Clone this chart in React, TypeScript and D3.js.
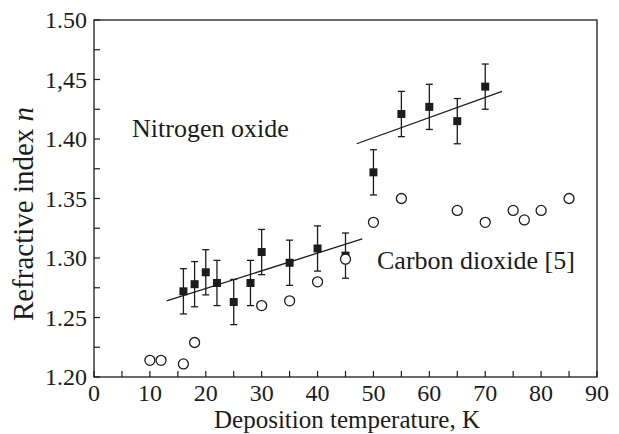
import { useEffect, useMemo, useRef } from "react";
import * as d3 from "d3";

// Nitrogen oxide (filled squares with error bars)
const noTemps = [16, 18, 20, 22, 25, 28, 30, 35, 40, 45, 50, 55, 60, 65, 70];
const noValues = [1.272, 1.278, 1.288, 1.279, 1.263, 1.279, 1.305, 1.296, 1.308, 1.302, 1.372, 1.421, 1.427, 1.415, 1.444];
const noErrors = [0.019, 0.019, 0.019, 0.019, 0.019, 0.019, 0.019, 0.019, 0.019, 0.019, 0.019, 0.019, 0.019, 0.019, 0.019];

// Carbon dioxide [5] (open circles)
const co2Temps = [10, 12, 16, 18, 30, 35, 40, 45, 50, 55, 65, 70, 75, 77, 80, 85];
const co2Values = [1.214, 1.214, 1.211, 1.229, 1.26, 1.264, 1.28, 1.299, 1.33, 1.35, 1.34, 1.33, 1.34, 1.332, 1.34, 1.35];

// linear fits, as [temperature, n] end points
const fitLow: [number, number][] = [[13, 1.264], [48, 1.316]];
const fitHigh: [number, number][] = [[47, 1.396], [73, 1.44]];

const xTicks = [0, 10, 20, 30, 40, 50, 60, 70, 80, 90];
const xMinor = d3.range(0, 91, 5);
const yTicks = [1.2, 1.25, 1.3, 1.35, 1.4, 1.45, 1.5];
const yTickLabels = ["1.20", "1.25", "1.30", "1.35", "1.40", "1,45", "1.50"];
const yMinor = d3.range(0, 13).map((i) => 1.2 + i * 0.025);

const width = 619;
const height = 434;
const margin = { left: 94, right: 22, top: 20, bottom: 57 };
const ink = "#1c1c1c";
const FONT = "Liberation Serif";

export default function App() {
  const textRef = useRef<SVGGElement>(null);

  const x = useMemo(
    () => d3.scaleLinear().domain([0, 90]).range([margin.left, width - margin.right]),
    []
  );
  const y = useMemo(
    () => d3.scaleLinear().domain([1.2, 1.5]).range([height - margin.bottom, margin.top]),
    []
  );
  const line = d3
    .line<[number, number]>()
    .x((d) => x(d[0]))
    .y((d) => y(d[1]));

  const x0 = x(0);
  const x1 = x(90);
  const y0 = y(1.2);
  const y1 = y(1.5);
  const sq = 8;

  // text layer drawn with d3
  useEffect(() => {
    if (!textRef.current) return;
    const g = d3.select(textRef.current);
    g.selectAll("*").remove();

    g.selectAll("text.xl")
      .data(xTicks)
      .join("text")
      .attr("class", "xl")
      .attr("x", (d) => x(d))
      .attr("y", 401)
      .attr("text-anchor", "middle")
      .style("font-family", FONT)
      .style("font-size", "24px")
      .attr("fill", ink)
      .text((d) => d);

    g.selectAll("text.yl")
      .data(yTicks)
      .join("text")
      .attr("class", "yl")
      .attr("x", 87)
      .attr("y", (d) => y(d) + 8)
      .attr("text-anchor", "end")
      .style("font-family", FONT)
      .style("font-size", "24px")
      .attr("fill", ink)
      .text((d, i) => yTickLabels[i]);

    g.append("text")
      .attr("x", 347)
      .attr("y", 428)
      .attr("text-anchor", "middle")
      .style("font-family", FONT)
      .style("font-size", "25px")
      .attr("fill", ink)
      .text("Deposition temperature, K");

    const yt = g
      .append("text")
      .attr("transform", "translate(33,214) rotate(-90)")
      .attr("text-anchor", "middle")
      .style("font-family", FONT)
      .style("font-size", "29px")
      .attr("fill", ink);
    yt.append("tspan").text("Refractive index ");
    yt.append("tspan").style("font-style", "italic").text("n");

    g.append("text")
      .attr("x", 132)
      .attr("y", 137)
      .style("font-family", FONT)
      .style("font-size", "26px")
      .attr("fill", ink)
      .text("Nitrogen oxide");

    g.append("text")
      .attr("x", 377)
      .attr("y", 269)
      .style("font-family", FONT)
      .style("font-size", "26px")
      .attr("fill", ink)
      .text("Carbon dioxide [5]");
  }, [x, y]);

  return (
    <svg width={width} height={height} style={{ position: "absolute", left: 0, top: 0 }}>
      <rect x={0} y={0} width={width} height={height} fill="#fff" />
      <rect x={x0} y={y1} width={x1 - x0} height={y0 - y1} fill="none" stroke={ink} strokeWidth={1.3} />

      {xMinor.map((t) => (
        <line key={"xt" + t} x1={x(t)} x2={x(t)} y1={y0} y2={y0 - 6} stroke={ink} strokeWidth={1.2} />
      ))}
      {yMinor.map((t) => (
        <line key={"yt" + t} x1={x0} x2={x0 + 6} y1={y(t)} y2={y(t)} stroke={ink} strokeWidth={1.2} />
      ))}

      <g ref={textRef} />

      <path d={line(fitLow) ?? ""} fill="none" stroke={ink} strokeWidth={1.3} />
      <path d={line(fitHigh) ?? ""} fill="none" stroke={ink} strokeWidth={1.3} />

      {noTemps.map((t, i) => {
        const cx = x(t);
        const top = y(noValues[i] + noErrors[i]);
        const bot = y(noValues[i] - noErrors[i]);
        return (
          <g key={"no" + t}>
            <line x1={cx} x2={cx} y1={top} y2={bot} stroke={ink} strokeWidth={1.3} />
            <line x1={cx - 3.5} x2={cx + 3.5} y1={top} y2={top} stroke={ink} strokeWidth={1.3} />
            <line x1={cx - 3.5} x2={cx + 3.5} y1={bot} y2={bot} stroke={ink} strokeWidth={1.3} />
            <rect x={cx - sq / 2} y={y(noValues[i]) - sq / 2} width={sq} height={sq} fill={ink} />
          </g>
        );
      })}

      {co2Temps.map((t, i) => (
        <circle key={"co" + t} cx={x(t)} cy={y(co2Values[i])} r={5} fill="#fff" stroke={ink} strokeWidth={1.3} />
      ))}
    </svg>
  );
}
